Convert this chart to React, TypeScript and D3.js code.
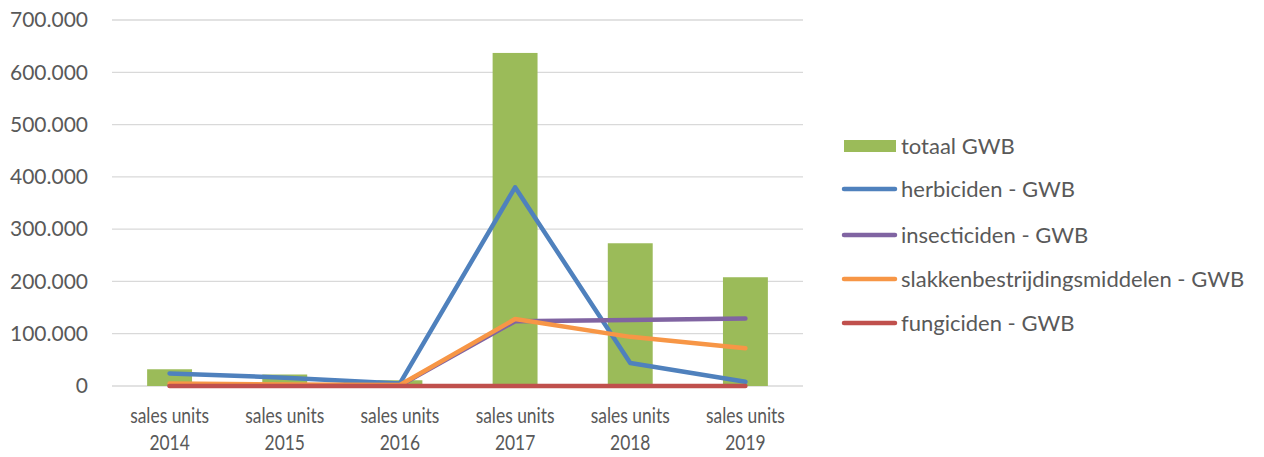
import React from "react";
import * as d3 from "d3";

const categories = ["2014", "2015", "2016", "2017", "2018", "2019"];
const totaal = [32000, 22000, 11000, 637000, 273000, 208000];
const herbiciden = [24000, 16000, 5000, 380000, 44000, 8000];
const insecticiden = [1000, 1000, 1000, 124000, 126000, 129000];
const slakken = [5000, 3000, 2000, 128000, 94000, 72000];
const fungiciden = [0, 0, 0, 0, 0, 0];
const yTicks = [0, 100000, 200000, 300000, 400000, 500000, 600000, 700000];

const lineSeries = [
  { name: "herbiciden - GWB", values: herbiciden, color: "#4F81BD" },
  { name: "insecticiden - GWB", values: insecticiden, color: "#8064A2" },
  { name: "slakkenbestrijdingsmiddelen - GWB", values: slakken, color: "#F79646" },
  { name: "fungiciden - GWB", values: fungiciden, color: "#C0504D" },
];

const W = 1264, H = 457;
const left = 112, right = 803, top = 20, bottom = 386;
const font = "Lato, 'Open Sans', sans-serif";
const textColor = "#595959";

export default function App() {
  const x = d3.scaleBand<string>().domain(categories).range([left, right]).paddingInner(0.61).paddingOuter(0.305);
  const xc = (c: string) => (x(c) as number) + x.bandwidth() / 2;
  const y = d3.scaleLinear().domain([0, 700000]).range([bottom, top]);
  const fmt = (v: number) => (v === 0 ? "0" : d3.format(",")(v).replace(/,/g, "."));
  const line = (vals: number[]) =>
    d3.line<number>().x((_, i) => xc(categories[i])).y((d) => y(d))(vals) as string;

  const legendRows = [146, 189, 235, 279, 323];

  return (
    <svg width={W} height={H} style={{ position: "absolute", left: 0, top: 0, background: "#fff" }}>
      {yTicks.map((t) => (
        <g key={t}>
          <line x1={left} x2={right} y1={y(t)} y2={y(t)} stroke="#D9D9D9" strokeWidth={1.3} />
          <text x={88} y={y(t)} dy="0.35em" textAnchor="end" fontFamily={font} fontSize={21} fill={textColor}>
            {fmt(t)}
          </text>
        </g>
      ))}
      {categories.map((c, i) => (
        <rect key={c} x={x(c)} y={y(totaal[i])} width={x.bandwidth()} height={y(0) - y(totaal[i])} fill="#9BBB59" />
      ))}
      {lineSeries.map((s) => (
        <path key={s.name} d={line(s.values)} fill="none" stroke={s.color} strokeWidth={4.5} strokeLinecap="round" strokeLinejoin="round" />
      ))}
      {categories.map((c) => (
        <g key={c} transform={`translate(${xc(c)},0) scale(0.85,1)`}>
          <text x={0} y={416} dy="0.35em" textAnchor="middle" fontFamily={font} fontSize={20.5} fill={textColor}>sales units</text>
          <text x={0} y={443} dy="0.35em" textAnchor="middle" fontFamily={font} fontSize={20.5} fill={textColor}>{c}</text>
        </g>
      ))}
      <g>
        <rect x={844} y={legendRows[0] - 6} width={52} height={12} fill="#9BBB59" />
        <text x={901} y={legendRows[0]} dy="0.35em" fontFamily={font} fontSize={22} fill={textColor}>totaal GWB</text>
        {lineSeries.map((s, i) => (
          <g key={s.name}>
            <line x1={844} x2={895} y1={legendRows[i + 1]} y2={legendRows[i + 1]} stroke={s.color} strokeWidth={4.5} strokeLinecap="round" />
            <text x={901} y={legendRows[i + 1]} dy="0.35em" fontFamily={font} fontSize={22} fill={textColor}>{s.name}</text>
          </g>
        ))}
      </g>
    </svg>
  );
}
